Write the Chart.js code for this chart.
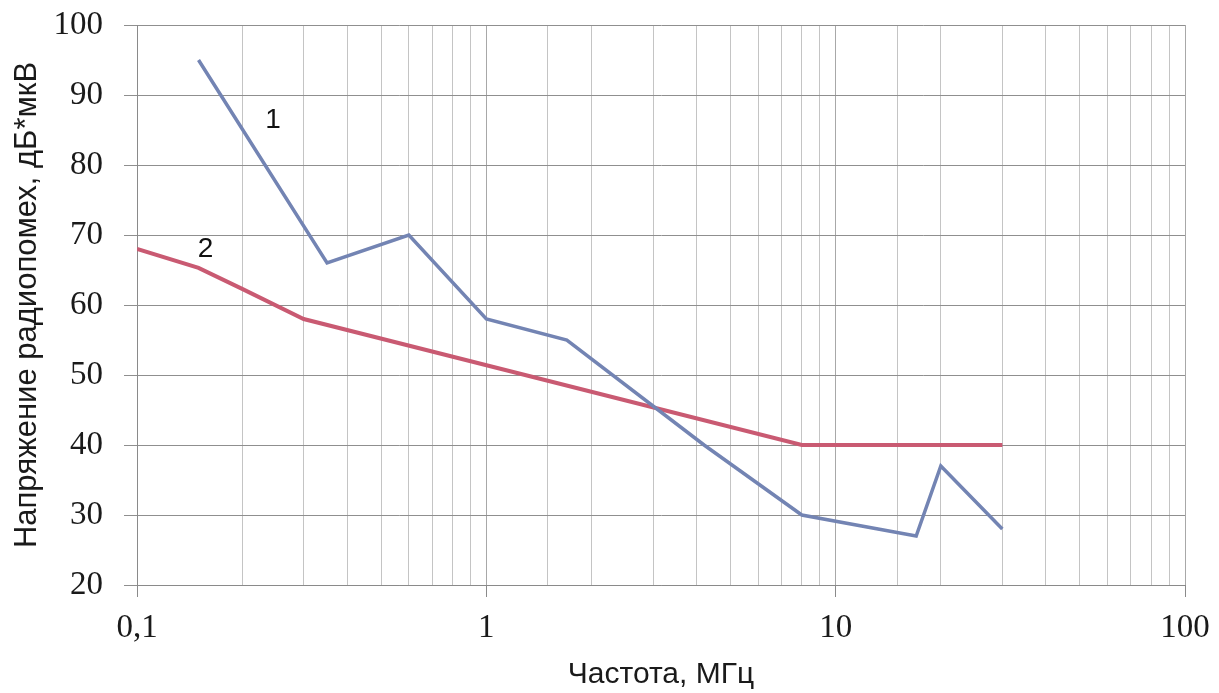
<!DOCTYPE html>
<html>
<head>
<meta charset="utf-8">
<script src="https://cdn.jsdelivr.net/npm/chart.js@4.4.0/dist/chart.umd.min.js"></script>
<style>
  html, body { margin: 0; padding: 0; background: #fff; }
  #wrap { width: 1219px; height: 693px; }
</style>
</head>
<body>
<div id="wrap"><canvas id="chart"></canvas></div>
<script>
// curve 1 - measured noise, curve 2 - limit
const freq1 = [0.15, 0.35, 0.6, 1, 1.7, 4.2, 8, 17, 20, 30];
const level1 = [95, 66, 70, 58, 55, 40, 30, 27, 37, 28];
const freq2 = [0.1, 0.15, 0.2, 0.3, 8, 30];
const level2 = [68, 65.3, 62.3, 58, 40, 40];

const curveNames = ["1", "2"];
const nameFreq = [0.245, 0.157];
const nameLevel = [86.4, 67.9];

const xTickLabels = { 0.1: "0,1", 1: "1", 10: "10", 100: "100" };

const toPoints = (xs, ys) => xs.map((x, i) => ({ x, y: ys[i] }));
const isMajor = v => [0.1, 1, 10, 100].some(m => Math.abs(v - m) < 1e-9);

const curveLabels = {
  id: "curveLabels",
  afterDatasetsDraw(chart) {
    const { ctx, scales } = chart;
    ctx.save();
    ctx.font = "28px 'Liberation Sans', Arial, sans-serif";
    ctx.fillStyle = "#111";
    ctx.textAlign = "center";
    ctx.textBaseline = "middle";
    curveNames.forEach((name, i) => {
      ctx.fillText(name, scales.x.getPixelForValue(nameFreq[i]), scales.y.getPixelForValue(nameLevel[i]));
    });
    ctx.restore();
  }
};

new Chart(document.getElementById("chart"), {
  type: "scatter",
  data: {
    datasets: [
      { data: toPoints(freq1, level1), showLine: true, borderColor: "#7384b3", borderWidth: 3.5, pointRadius: 0 },
      { data: toPoints(freq2, level2), showLine: true, borderColor: "#c95a72", borderWidth: 4, pointRadius: 0 }
    ]
  },
  options: {
    responsive: true,
    maintainAspectRatio: false,
    animation: false,
    layout: { padding: { top: 25, right: 34, bottom: 0, left: 0 } },
    plugins: { legend: { display: false }, tooltip: { enabled: false } },
    scales: {
      x: {
        type: "logarithmic",
        min: 0.1,
        max: 100,
        afterFit: s => { s.height = 108; s.paddingLeft = 0; s.paddingRight = 0; },
        border: { display: true, color: "#8a8a8a", width: 1 },
        grid: {
          color: c => isMajor(c.tick.value) ? "#a8a8a8" : "#c4c4c4",
          tickColor: c => isMajor(c.tick.value) ? "#8a8a8a" : "rgba(0,0,0,0)",
          tickLength: 12,
          lineWidth: 1
        },
        ticks: {
          autoSkip: false,
          maxRotation: 0,
          padding: 12,
          color: "#1a1a1a",
          font: { family: "'Liberation Serif', 'Times New Roman', serif", size: 33 },
          callback: v => xTickLabels[v] || ""
        },
        title: {
          display: true,
          text: "Частота, МГц",
          color: "#1a1a1a",
          font: { family: "'Liberation Sans', Arial, sans-serif", size: 30 },
          padding: { top: 0, bottom: 0 }
        }
      },
      y: {
        min: 20,
        max: 100,
        afterFit: s => { s.width = 137; s.paddingTop = 0; s.paddingBottom = 0; },
        border: { display: true, color: "#8a8a8a", width: 1 },
        grid: { color: "#8f8f8f", tickColor: "#8f8f8f", tickLength: 13, lineWidth: 1 },
        ticks: {
          stepSize: 10,
          padding: 21,
          color: "#1a1a1a",
          font: { family: "'Liberation Serif', 'Times New Roman', serif", size: 33 }
        },
        title: {
          display: true,
          text: "Напряжение радиопомех, дБ*мкВ",
          color: "#1a1a1a",
          font: { family: "'Liberation Sans', Arial, sans-serif", size: 31 },
          padding: { top: 9, bottom: 0 }
        }
      }
    }
  },
  plugins: [curveLabels]
});
</script>
</body>
</html>
